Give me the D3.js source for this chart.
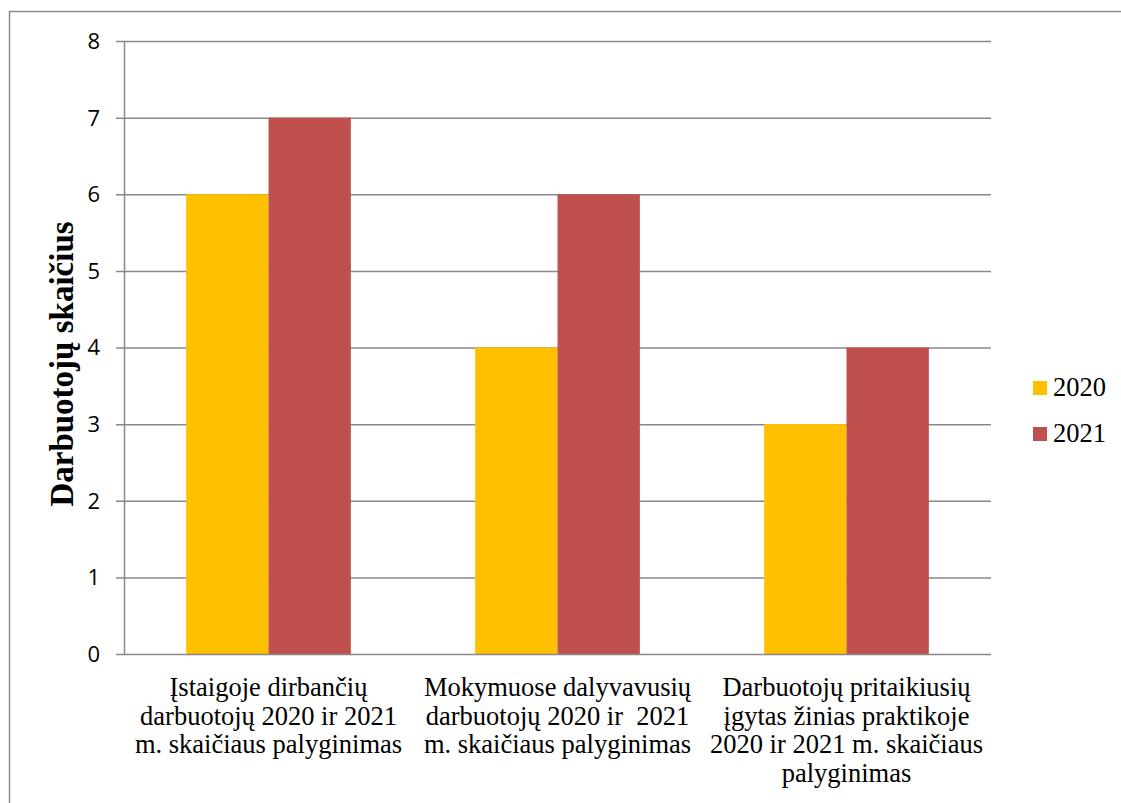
<!DOCTYPE html>
<html><head><meta charset="utf-8">
<script src="https://cdn.jsdelivr.net/npm/d3@7"></script>
<style>body{margin:0;background:#fff}svg{display:block}</style>
</head><body>
<svg id="c" width="1121" height="803"></svg>
<script>
const categories = [
  ["Įstaigoje dirbančių", "darbuotojų 2020 ir 2021", "m. skaičiaus palyginimas"],
  ["Mokymuose dalyvavusių", "darbuotojų 2020 ir  2021", "m. skaičiaus palyginimas"],
  ["Darbuotojų pritaikiusių", "įgytas žinias praktikoje", "2020 ir 2021 m. skaičiaus", "palyginimas"]
];
const seriesNames = ["2020", "2021"];
const values2020 = [6, 4, 3];
const values2021 = [7, 6, 4];
const yTicks = [0, 1, 2, 3, 4, 5, 6, 7, 8];
const colors = ["#FFC000", "#C0504D"];

const svg = d3.select("#c");
const L = 124, R = 991, T = 41, B = 654;
const serif = "'Liberation Serif', 'Times New Roman', serif";

// outer frame
svg.append("path").attr("d", "M9.5,803 V11.5 H1121").attr("fill", "none").attr("stroke", "#8c8c8c").attr("stroke-width", 1.5);

const y = d3.scaleLinear().domain([0, 8]).range([B, T]);
const x0 = d3.scaleBand().domain(d3.range(categories.length)).range([L, R]).padding(0);
const x1 = d3.scaleBand().domain(seriesNames).range([x0.bandwidth() * 0.215, x0.bandwidth() * 0.785]).padding(0);

// gridlines
svg.append("g").selectAll("line").data(yTicks.filter(d => d > 0)).join("line")
  .attr("x1", L - 8).attr("x2", R).attr("y1", d => y(d) + 0.5).attr("y2", d => y(d) + 0.5)
  .attr("stroke", "#888").attr("stroke-width", 1.5);

// bars
const data = [values2020, values2021];
const g = svg.append("g");
categories.forEach((c, i) => {
  seriesNames.forEach((s, j) => {
    g.append("rect")
      .attr("x", x0(i) + x1(s)).attr("width", x1.bandwidth())
      .attr("y", y(data[j][i])).attr("height", y(0) - y(data[j][i]))
      .attr("fill", colors[j]);
  });
});

// axes lines
svg.append("line").attr("x1", L + 0.5).attr("x2", L + 0.5).attr("y1", T).attr("y2", B + 1)
  .attr("stroke", "#888").attr("stroke-width", 1.5);
svg.append("line").attr("x1", L - 8).attr("x2", R).attr("y1", B + 0.5).attr("y2", B + 0.5)
  .attr("stroke", "#888").attr("stroke-width", 1.5);

// y tick labels
svg.append("g").selectAll("text").data(yTicks).join("text")
  .attr("x", 100).attr("y", d => y(d)).attr("dy", "0.36em")
  .attr("text-anchor", "end").attr("font-family", "'Open Sans', sans-serif")
  .attr("font-size", 22).attr("fill", "#000").text(d => d);

// y axis title
svg.append("text").attr("transform", "translate(73,364) rotate(-90)")
  .attr("text-anchor", "middle").attr("font-family", serif)
  .attr("font-weight", "bold").attr("font-size", 33).text("Darbuotojų skaičius");

// category labels
categories.forEach((lines, i) => {
  const t = svg.append("text").attr("text-anchor", "middle")
    .attr("font-family", serif).attr("font-size", 26.5).style("white-space", "pre");
  lines.forEach((ln, k) => {
    t.append("tspan").attr("x", x0(i) + x0.bandwidth() / 2).attr("y", 696 + k * 28.7).text(ln);
  });
});

// legend
const lg = svg.append("g");
seriesNames.forEach((s, j) => {
  lg.append("rect").attr("x", 1033).attr("y", 381 + j * 46).attr("width", 14).attr("height", 14).attr("fill", colors[j]);
  lg.append("text").attr("x", 1053).attr("y", 396 + j * 46)
    .attr("font-family", serif).attr("font-size", 26.5).text(s);
});
</script>
</body></html>
